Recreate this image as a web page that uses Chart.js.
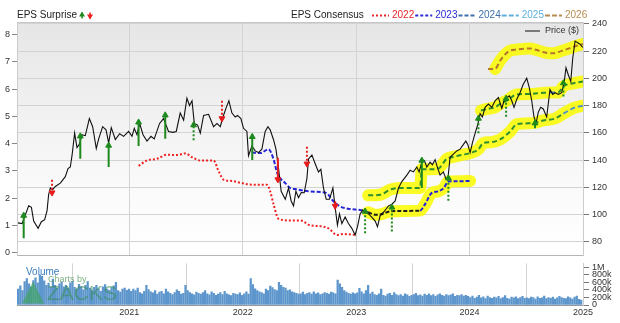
<!DOCTYPE html>
<html>
<head>
<meta charset="utf-8">
<script src="https://cdn.jsdelivr.net/npm/chart.js@4.4.0/dist/chart.umd.min.js"></script>
<style>
  html, body { margin: 0; padding: 0; background: #fff; }
  #wrap { position: relative; width: 620px; height: 323px; overflow: hidden; }
  canvas { position: absolute; left: 0; }
</style>
</head>
<body>
<div id="wrap">
  <canvas id="priceChart" width="620" height="264" style="top:0"></canvas>
  <canvas id="volumeChart" width="620" height="68" style="top:255px"></canvas>
</div>
<script>
// ---- data ----
const yearTicks = [2021, 2022, 2023, 2024, 2025];
const priceTicks = [80, 100, 120, 140, 160, 180, 200, 220, 240];
const epsTicks = [0, 1, 2, 3, 4, 5, 6, 7, 8];
const volumeTicks = [0, 200000, 400000, 600000, 800000, 1000000];
const volumeTickLabels = ['0', '200k', '400k', '600k', '800k', '1M'];

const priceYears = [
  2020.019, 2020.055, 2020.113, 2020.137, 2020.157, 2020.196, 2020.225, 2020.254, 2020.275, 2020.289,
  2020.304, 2020.324, 2020.348, 2020.392, 2020.436, 2020.460, 2020.480, 2020.495, 2020.518, 2020.539,
  2020.559, 2020.583, 2020.612, 2020.648, 2020.677, 2020.709, 2020.730, 2020.765, 2020.795, 2020.818,
  2020.841, 2020.877, 2020.915, 2020.950, 2020.994, 2021.024, 2021.044, 2021.068, 2021.091, 2021.121,
  2021.156, 2021.191, 2021.220, 2021.267, 2021.302, 2021.346, 2021.385, 2021.414, 2021.449, 2021.479,
  2021.508, 2021.531, 2021.553, 2021.573, 2021.602, 2021.626, 2021.655, 2021.699, 2021.743, 2021.773,
  2021.802, 2021.826, 2021.855, 2021.878, 2021.905, 2021.934, 2021.954, 2021.984, 2022.007, 2022.037,
  2022.051, 2022.081, 2022.110, 2022.139, 2022.169, 2022.198, 2022.222, 2022.242, 2022.271, 2022.293,
  2022.316, 2022.339, 2022.375, 2022.404, 2022.427, 2022.448, 2022.469, 2022.492, 2022.516, 2022.542,
  2022.566, 2022.580, 2022.610, 2022.639, 2022.668, 2022.689, 2022.712, 2022.736, 2022.765, 2022.795,
  2022.815, 2022.835, 2022.853, 2022.874, 2022.903, 2022.932, 2022.962, 2022.991, 2023.012, 2023.035,
  2023.059, 2023.079, 2023.109, 2023.138, 2023.168, 2023.188, 2023.212, 2023.241, 2023.264, 2023.285,
  2023.315, 2023.344, 2023.373, 2023.403, 2023.447, 2023.476, 2023.505, 2023.535, 2023.555, 2023.579,
  2023.602, 2023.623, 2023.652, 2023.672, 2023.696, 2023.720, 2023.740, 2023.769, 2023.790, 2023.808,
  2023.828, 2023.857, 2023.887, 2023.917, 2023.946, 2023.967, 2023.984, 2024.005, 2024.025, 2024.049,
  2024.072, 2024.093, 2024.113, 2024.137, 2024.166, 2024.196, 2024.225, 2024.254, 2024.284, 2024.304,
  2024.331, 2024.351, 2024.372, 2024.392, 2024.416, 2024.445, 2024.471, 2024.504, 2024.527, 2024.548,
  2024.568, 2024.586, 2024.606, 2024.627, 2024.650, 2024.680, 2024.709, 2024.733, 2024.754, 2024.783,
  2024.812, 2024.833, 2024.850, 2024.871, 2024.892, 2024.909, 2024.930, 2024.950, 2024.974, 2024.997
];
const priceValues = [
  94.0, 93.5, 106.5, 105.4, 95.4, 90.0, 94.9, 96.4, 103.0, 114.8,
  119.6, 118.4, 120.7, 123.2, 127.9, 133.8, 135.0, 143.3, 159.9, 149.2,
  151.6, 158.7, 158.0, 170.5, 164.6, 148.5, 155.6, 164.6, 162.3, 152.7,
  163.9, 155.2, 159.4, 157.5, 161.1, 157.5, 163.4, 158.7, 167.0, 158.7,
  154.0, 157.5, 155.6, 167.0, 170.5, 161.1, 160.4, 161.1, 174.6, 169.4,
  185.5, 180.1, 183.6, 167.0, 165.8, 159.9, 172.9, 173.7, 164.6, 167.0,
  164.6, 171.7, 178.8, 183.6, 174.6, 171.7, 172.9, 170.5, 163.4, 161.1,
  143.3, 150.4, 146.8, 145.6, 148.1, 161.1, 164.6, 162.3, 155.2, 148.1,
  133.8, 117.2, 111.3, 119.6, 110.1, 106.5, 117.2, 112.5, 116.3, 116.1,
  126.7, 140.9, 143.8, 137.4, 131.4, 133.3, 119.6, 111.3, 111.3, 119.6,
  105.4, 92.3, 100.6, 93.5, 98.3, 93.5, 90.0, 85.2, 91.2, 100.6,
  103.5, 101.8, 100.6, 98.3, 95.3, 91.2, 99.4, 101.8, 104.2, 106.5,
  107.7, 110.1, 119.6, 124.3, 129.1, 132.6, 131.4, 135.0, 131.4, 138.5,
  139.7, 135.0, 138.5, 136.7, 140.4, 133.8, 129.1, 131.4, 126.7, 125.5,
  142.1, 144.5, 146.8, 148.1, 151.6, 154.0, 151.6, 145.6, 152.7, 159.9,
  166.0, 174.1, 171.7, 178.8, 181.2, 178.8, 183.6, 186.0, 178.1, 183.6,
  186.0, 187.2, 183.6, 178.8, 184.7, 189.5, 195.4, 200.2, 193.1, 183.6,
  171.7, 167.0, 175.3, 178.8, 177.6, 171.7, 191.9, 188.3, 189.5, 188.3,
  189.5, 196.6, 207.8, 202.5, 197.8, 214.4, 227.4, 226.3, 225.1, 222.7
];

// EPS consensus per fiscal year (left axis)
const cons2022Years = [2021.082, 2021.156, 2021.244, 2021.332, 2021.420, 2021.493, 2021.553, 2021.626, 2021.743, 2021.787, 2021.831, 2021.905, 2021.993, 2022.081, 2022.213, 2022.242, 2022.271, 2022.316, 2022.419, 2022.507, 2022.595, 2022.683, 2022.756, 2022.830, 2022.888, 2022.991];
const cons2022Eps = [3.18, 3.38, 3.44, 3.59, 3.58, 3.64, 3.50, 3.38, 3.38, 2.99, 2.68, 2.63, 2.55, 2.49, 2.49, 2.25, 1.78, 1.24, 1.18, 1.18, 1.00, 0.97, 0.89, 0.65, 0.68, 0.65];
const cons2023Years = [2022.081, 2022.154, 2022.227, 2022.271, 2022.301, 2022.330, 2022.375, 2022.419, 2022.463, 2022.516, 2022.595, 2022.683, 2022.742, 2022.800, 2022.859, 2022.947, 2023.035, 2023.106, 2023.168, 2023.212, 2023.300, 2023.432, 2023.564, 2023.608, 2023.667, 2023.725, 2023.775, 2023.811, 2023.917, 2024.005];
const cons2023Eps = [3.67, 3.65, 3.79, 3.44, 2.96, 2.73, 2.55, 2.37, 2.33, 2.29, 2.24, 2.22, 2.17, 1.88, 1.69, 1.60, 1.56, 1.48, 1.39, 1.40, 1.51, 1.53, 1.54, 1.78, 2.19, 2.25, 2.38, 2.61, 2.62, 2.63];
const cons2024Years = [2023.106, 2023.212, 2023.300, 2023.388, 2023.564, 2023.579, 2023.667, 2023.723, 2023.799, 2023.843, 2023.931, 2024.020, 2024.078, 2024.122, 2024.190, 2024.269, 2024.357, 2024.416, 2024.562, 2024.650, 2024.754, 2024.827, 2024.915, 2025.000];
const cons2024Eps = [2.10, 2.12, 2.31, 2.37, 2.37, 3.06, 3.06, 3.08, 3.44, 3.50, 3.58, 3.67, 3.79, 4.02, 4.05, 4.15, 4.44, 4.71, 4.75, 4.85, 4.92, 5.10, 5.30, 5.39];
const cons2025Years = [2024.101, 2024.152, 2024.225, 2024.269, 2024.328, 2024.416, 2024.533, 2024.650, 2024.709, 2024.780, 2024.827, 2024.915, 2025.000];
const cons2025Eps = [5.21, 5.27, 5.33, 5.46, 5.58, 5.80, 5.82, 5.86, 5.87, 5.87, 6.10, 6.21, 6.28];
const cons2026Years = [2024.163, 2024.225, 2024.269, 2024.313, 2024.357, 2024.416, 2024.533, 2024.592, 2024.665, 2024.739, 2024.812, 2024.885, 2024.945, 2025.000];
const cons2026Eps = [6.74, 6.74, 7.04, 7.27, 7.41, 7.45, 7.49, 7.43, 7.34, 7.31, 7.40, 7.50, 7.59, 7.65];

// EPS surprises: consensus -> reported
const surpriseYears = [2020.069, 2020.319, 2020.568, 2020.818, 2021.082, 2021.317, 2021.567, 2021.817, 2022.084, 2022.310, 2022.566, 2022.815, 2023.079, 2023.315, 2023.579, 2023.813, 2024.078, 2024.322, 2024.577, 2024.827];
const surpriseFrom = [0.53, 2.67, 3.44, 3.14, 3.91, 4.18, 4.12, 5.57, 3.40, 3.48, 3.88, 1.88, 0.71, 0.77, 2.37, 1.90, 4.38, 4.98, 4.56, 5.73];
const surpriseTo = [1.36, 2.20, 4.27, 3.93, 4.78, 5.04, 4.68, 4.92, 4.25, 2.68, 3.26, 1.71, 1.51, 1.66, 3.38, 2.73, 4.92, 5.65, 4.75, 6.22];

// weekly volume (thousands of shares), one row per year from Jan 2020
const volume2020 = [420, 510, 380, 620, 700, 560, 480, 650, 720, 590, 800, 760, 640, 520, 580, 470, 690, 520, 440, 560, 610, 480, 520, 450, 590, 630, 470, 420, 550, 480, 400, 520, 620, 450, 380, 470, 520, 430, 360, 480, 540, 420, 390, 460, 510, 600, 380, 340, 420, 450, 390, 420];
const volume2021 = [360, 420, 380, 450, 330, 300, 360, 520, 410, 350, 320, 380, 290, 340, 360, 300, 420, 350, 310, 280, 330, 400, 360, 290, 310, 520, 380, 330, 300, 270, 340, 310, 290, 330, 380, 300, 270, 350, 310, 260, 290, 330, 280, 360, 300, 270, 250, 310, 290, 280, 320, 260];
const volume2022 = [300, 350, 290, 700, 540, 430, 380, 350, 330, 300, 420, 380, 500, 460, 410, 380, 600, 520, 470, 450, 380, 400, 350, 330, 310, 290, 300, 340, 280, 310, 330, 290, 350, 300, 320, 280, 300, 330, 310, 290, 340, 320, 300, 660, 560, 470, 380, 340, 310, 290, 320, 300];
const volume2023 = [320, 440, 350, 300, 380, 520, 300, 340, 280, 260, 300, 420, 260, 240, 290, 310, 260, 330, 280, 250, 280, 240, 300, 270, 230, 260, 280, 310, 250, 270, 240, 290, 260, 300, 250, 280, 230, 270, 300, 260, 240, 280, 250, 270, 300, 230, 260, 250, 280, 240, 260, 230];
const volume2024 = [200, 240, 180, 210, 260, 190, 220, 170, 240, 200, 180, 210, 190, 230, 170, 200, 250, 180, 160, 210, 190, 220, 170, 200, 230, 180, 190, 170, 210, 200, 160, 220, 180, 190, 240, 170, 200, 180, 210, 160, 190, 230, 200, 180, 170, 220, 190, 160, 210, 240, 150, 130];
const volumeStart = 2020.02;

// ---- styles ----
const FONT = '"Liberation Sans", Arial, Helvetica, sans-serif';
Chart.defaults.font.family = FONT;
Chart.defaults.font.size = 9;
Chart.defaults.color = '#333';

const GREEN = '#1e8a1e';
const RED = '#e81c1c';
const HIGHLIGHT = 'rgba(250,250,0,0.85)';
const arrowDotted = [false, true, false, false, false, false, true, true, false, false, true, false, true, true, false, true, true, true, false, true];
const legendItems = [
  { label: '2022', color: '#e8262b', dash: [2, 2] },
  { label: '2023', color: '#2a2ad8', dash: [3, 2] },
  { label: '2024', color: '#3e6fae', dash: [4, 2] },
  { label: '2025', color: '#5fb0de', dash: [5, 2] },
  { label: '2026', color: '#b98b4f', dash: [5, 2] }
];

const X_MIN = 2020.01, X_MAX = 2025;
const pts = (xs, ys) => xs.map((x, i) => ({ x: x, y: ys[i] }));
const onlyFrom = (xs, ys, start) => pts(xs, ys).filter(p => p.x >= start);

function consensusLine(data, color, dash, segColor) {
  return {
    data: data, yAxisID: 'eps', borderColor: color, borderWidth: 2, borderDash: dash,
    pointRadius: 0, cubicInterpolationMode: 'monotone', order: 5,
    segment: segColor ? { borderColor: segColor } : undefined
  };
}
function highlight(data) {
  return {
    data: data, yAxisID: 'eps', borderColor: HIGHLIGHT, borderWidth: 12,
    borderCapStyle: 'round', borderJoinStyle: 'round',
    pointRadius: 0, cubicInterpolationMode: 'monotone', order: 10
  };
}

const arrowSets = surpriseYears.map((yr, i) => {
  const up = surpriseTo[i] > surpriseFrom[i];
  const c = up ? GREEN : RED;
  return {
    data: [{ x: yr, y: surpriseFrom[i] }, { x: yr, y: surpriseTo[i] }],
    yAxisID: 'eps', borderColor: c, borderWidth: 2,
    borderDash: arrowDotted[i] ? [2, 2] : [],
    pointRadius: [0, 3.4], pointStyle: 'triangle', rotation: up ? 0 : 180,
    pointBackgroundColor: c, pointBorderColor: c, pointBorderWidth: 1, order: 1
  };
});

function drawArrowIcon(ctx, x, y, up, color) {
  const d = up ? -1 : 1;
  ctx.fillStyle = color;
  ctx.fillRect(x - 0.75, y - 3, 1.5, 6);
  ctx.beginPath();
  ctx.moveTo(x - 3, y - d * 1);
  ctx.lineTo(x + 3, y - d * 1);
  ctx.lineTo(x, y + d * 4);
  ctx.closePath();
  ctx.fill();
}

const panelBackground = {
  id: 'panelBackground',
  beforeDraw(chart) {
    const { ctx, chartArea: a } = chart;
    const g = ctx.createLinearGradient(0, a.top, 0, a.bottom);
    g.addColorStop(0, '#e6e6e6');
    g.addColorStop(0.75, '#fbfbfb');
    g.addColorStop(1, '#ffffff');
    ctx.save();
    ctx.fillStyle = g;
    ctx.fillRect(a.left, a.top, a.right - a.left, a.bottom - a.top);
    ctx.strokeStyle = '#c6c6c6';
    ctx.beginPath();
    ctx.moveTo(a.left, a.top + 0.5);
    ctx.lineTo(a.right, a.top + 0.5);
    ctx.stroke();
    ctx.restore();
  }
};

const headerLegend = {
  id: 'headerLegend',
  afterDraw(chart) {
    const { ctx, chartArea: a } = chart;
    ctx.save();
    ctx.font = '10px ' + FONT;
    ctx.textBaseline = 'middle';
    ctx.fillStyle = '#222';
    ctx.fillText('EPS Surprise', a.left, 15.5);
    const sx = a.left + ctx.measureText('EPS Surprise').width;
    drawArrowIcon(ctx, sx + 5, 15.5, true, GREEN);
    drawArrowIcon(ctx, sx + 13, 15.5, false, RED);

    ctx.fillStyle = '#222';
    ctx.fillText('EPS Consensus', 291, 15.5);
    let x = 372;
    legendItems.forEach(item => {
      ctx.strokeStyle = item.color;
      ctx.lineWidth = 2;
      ctx.setLineDash(item.dash);
      ctx.beginPath();
      ctx.moveTo(x, 15.5);
      ctx.lineTo(x + 17, 15.5);
      ctx.stroke();
      ctx.setLineDash([]);
      ctx.fillStyle = item.color;
      ctx.fillText(item.label, x + 20, 15.5);
      x += 20 + ctx.measureText(item.label).width + 1;
    });

    // price legend inside the panel
    ctx.strokeStyle = '#555';
    ctx.lineWidth = 1.5;
    ctx.beginPath();
    ctx.moveTo(a.right - 58, 31);
    ctx.lineTo(a.right - 43, 31);
    ctx.stroke();
    ctx.font = '9px ' + FONT;
    ctx.fillStyle = '#333';
    ctx.fillText('Price ($)', a.right - 38, 31);
    ctx.restore();
  }
};

const zacksMark = {
  id: 'zacksMark',
  afterDatasetsDraw(chart) {
    const { ctx, chartArea: a } = chart;
    ctx.save();
    ctx.textBaseline = 'middle';
    ctx.font = '10px ' + FONT;
    ctx.fillStyle = '#3a7cbf';
    ctx.fillText('Volume', a.left + 9, a.top + 9);
    ctx.fillStyle = 'rgba(60,165,80,0.6)';
    ctx.beginPath();
    ctx.moveTo(a.left + 5, a.top + 40);
    ctx.lineTo(a.left + 16, a.top + 18);
    ctx.lineTo(a.left + 27, a.top + 40);
    ctx.closePath();
    ctx.fill();
    ctx.font = '9px ' + FONT;
    ctx.fillStyle = 'rgba(80,150,90,0.75)';
    ctx.fillText('Charts by', a.left + 31, a.top + 16);
    ctx.font = '21px ' + FONT;
    ctx.fillStyle = 'rgba(50,140,80,0.55)';
    ctx.fillText('ZACKS', a.left + 30, a.top + 31);
    ctx.restore();
  }
};

new Chart(document.getElementById('priceChart'), {
  type: 'line',
  data: {
    datasets: [
      highlight(onlyFrom(cons2023Years, cons2023Eps, 2023.1)),
      highlight(pts(cons2024Years, cons2024Eps)),
      highlight(pts(cons2025Years, cons2025Eps)),
      highlight(onlyFrom(cons2026Years, cons2026Eps, 2024.2)),
      consensusLine(pts(cons2022Years, cons2022Eps), '#ee2222', [2, 2]),
      consensusLine(pts(cons2023Years, cons2023Eps), '#2525d8', [4, 2],
        c => (c.p0.parsed.x >= 2023.1 && c.p1.parsed.x <= 2023.57) ? '#1b1b1b' : '#2525d8'),
      consensusLine(pts(cons2024Years, cons2024Eps), '#2f8f2f', [5, 3],
        c => c.p0.parsed.x >= 2024.82 ? '#4a8fd0' : '#2f8f2f'),
      consensusLine(pts(cons2025Years, cons2025Eps), '#2f8f2f', [5, 3],
        c => (c.p0.parsed.x >= 2024.70 && c.p0.parsed.x < 2024.78) ? '#4a7fc0' : '#2f8f2f'),
      consensusLine(pts(cons2026Years, cons2026Eps), '#b5762e', [5, 3]),
      {
        data: pts(priceYears, priceValues), yAxisID: 'price',
        borderColor: '#111', borderWidth: 1.1, pointRadius: 0, tension: 0, order: 2
      },
      ...arrowSets
    ]
  },
  options: {
    responsive: false,
    animation: false,
    devicePixelRatio: 1,
    layout: { padding: { top: 22, left: 0, right: 0, bottom: 0 } },
    plugins: { legend: { display: false }, tooltip: { enabled: false } },
    scales: {
      x: {
        type: 'linear', min: X_MIN, max: X_MAX,
        afterBuildTicks: s => { s.ticks = yearTicks.map(v => ({ value: v })); },
        afterFit: s => { s.height = 1; },
        ticks: { display: false },
        grid: { color: '#d3d3d3', drawTicks: false },
        border: { color: '#b5b5b5' }
      },
      eps: {
        position: 'left', min: -0.11, max: 8.46,
        afterBuildTicks: s => { s.ticks = epsTicks.map(v => ({ value: v })); },
        afterFit: s => { s.width = 17; },
        ticks: { padding: 2, autoSkip: false },
        grid: { drawOnChartArea: false, tickLength: 5, color: '#888' },
        border: { color: '#cccccc' }
      },
      price: {
        position: 'right', min: 70, max: 241.4,
        afterBuildTicks: s => { s.ticks = priceTicks.map(v => ({ value: v })); },
        afterFit: s => { s.width = 37; },
        ticks: { padding: 3, autoSkip: false },
        grid: { color: '#d3d3d3', tickLength: 6, tickColor: '#777' },
        border: { color: '#cccccc' }
      }
    }
  },
  plugins: [panelBackground, headerLegend]
});

const volumeWeeks = [].concat(volume2020, volume2021, volume2022, volume2023, volume2024);

new Chart(document.getElementById('volumeChart'), {
  type: 'bar',
  data: {
    datasets: [{
      data: volumeWeeks.map((v, i) => ({ x: volumeStart + i * 7 / 365.25, y: v * 1000 })),
      backgroundColor: '#5d96cc',
      barThickness: 1.6
    }]
  },
  options: {
    responsive: false,
    animation: false,
    devicePixelRatio: 1,
    layout: { padding: { top: 8, left: 17, right: 0, bottom: 0 } },
    plugins: { legend: { display: false }, tooltip: { enabled: false } },
    scales: {
      x: {
        type: 'linear', min: X_MIN, max: X_MAX, offset: false,
        afterBuildTicks: s => { s.ticks = yearTicks.map(v => ({ value: v })); },
        afterFit: s => { s.height = 18; },
        ticks: { callback: v => String(v), padding: 2, maxRotation: 0, autoSkip: false, color: '#333' },
        grid: { color: '#d3d3d3', drawTicks: false },
        border: { color: '#999' }
      },
      y: {
        position: 'right', min: 0, max: 1105000,
        afterBuildTicks: s => { s.ticks = volumeTicks.map(v => ({ value: v })); },
        afterFit: s => { s.width = 37; },
        ticks: { padding: 3, autoSkip: false, callback: (v, i) => volumeTickLabels[i] },
        grid: { drawOnChartArea: false, tickLength: 6, tickColor: '#777' },
        border: { color: '#cccccc' }
      }
    }
  },
  plugins: [zacksMark]
});
</script>
</body>
</html>
